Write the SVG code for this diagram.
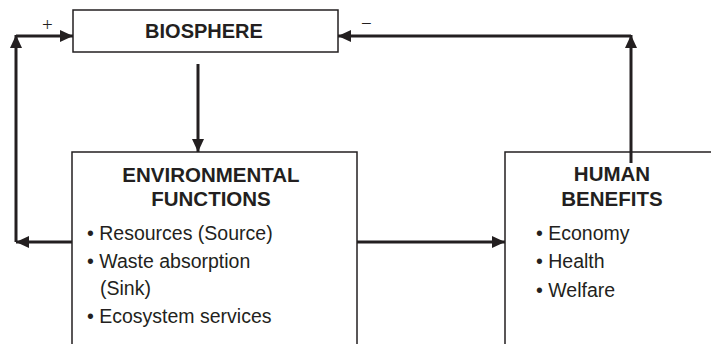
<svg xmlns="http://www.w3.org/2000/svg" width="711" height="344" viewBox="0 0 711 344">
<style>
.box{fill:#fff;stroke:#231f20;stroke-width:1.5}
.ln{fill:none;stroke:#231f20;stroke-width:3}
.t{font-family:"Liberation Sans",Arial,sans-serif;fill:#231f20}
.h{font-size:20.5px;font-weight:bold;text-anchor:middle}
.b{font-size:19.5px}
.s{font-family:"Liberation Serif",serif;font-size:19px;fill:#231f20}
</style>
<defs>
<marker id="ah" viewBox="0 0 13 12" refX="13" refY="6" markerWidth="13" markerHeight="12" markerUnits="userSpaceOnUse" orient="auto">
<path d="M0,0 L13,6 L0,12 Z" fill="#231f20"/>
</marker>
</defs>
<g id="biosphere">
<rect class="box" x="73" y="10" width="265" height="42"/>
<text class="t h" x="204" y="38" style="font-size:20px">BIOSPHERE</text>
</g>
<g id="environmental-functions">
<rect class="box" x="72" y="152" width="285" height="200"/>
<text class="t h" x="211" y="182">ENVIRONMENTAL</text>
<text class="t h" x="211" y="206">FUNCTIONS</text>
<text class="t b" x="87" y="240">• Resources (Source)</text>
<text class="t b" x="87" y="268">• Waste absorption</text>
<text class="t b" x="100" y="295">(Sink)</text>
<text class="t b" x="87" y="323">• Ecosystem services</text>
</g>
<g id="human-benefits">
<rect class="box" x="505" y="152" width="220" height="200"/>
<text class="t h" x="612" y="181">HUMAN</text>
<text class="t h" x="612" y="206">BENEFITS</text>
<text class="t b" x="536" y="240">• Economy</text>
<text class="t b" x="536" y="268">• Health</text>
<text class="t b" x="536" y="297">• Welfare</text>
</g>
<g id="connectors">
<path class="ln" d="M198,64 V152" marker-end="url(#ah)"/>
<path class="ln" d="M357,242 H505" marker-end="url(#ah)"/>
<path class="ln" d="M72,242 H16" marker-end="url(#ah)"/>
<path class="ln" d="M16,242 V35" marker-end="url(#ah)"/>
<path class="ln" d="M16,36 H73" marker-end="url(#ah)"/>
<path class="ln" d="M631,163 V35" marker-end="url(#ah)"/>
<path class="ln" d="M631,36 H338" marker-end="url(#ah)"/>
<text class="s" x="42" y="31">+</text>
<text class="s" x="361" y="30">−</text>
</g>
</svg>
